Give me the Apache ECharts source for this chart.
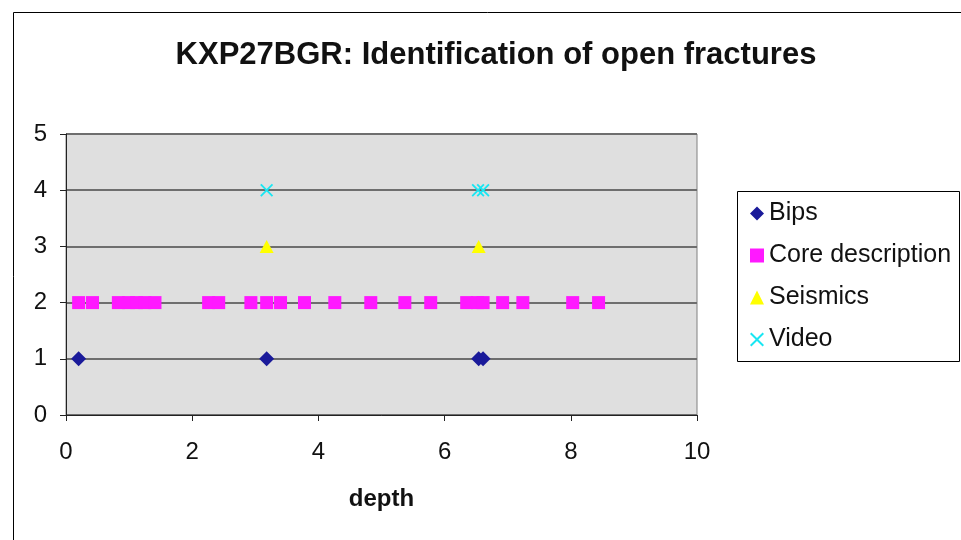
<!DOCTYPE html>
<html><head><meta charset="utf-8">
<script src="https://cdn.jsdelivr.net/npm/echarts@6/dist/echarts.min.js"></script>
<style>html,body{margin:0;padding:0;background:#fff}#c{width:961px;height:540px}</style>
</head><body><div id="c"></div>
<script>
const titleText = 'KXP27BGR: Identification of open fractures';
const xName = 'depth';
const bipsDepth = [0.20, 3.18, 6.54, 6.61];
const bipsVal = [1, 1, 1, 1];
const coreDepth = [0.20,0.42,0.83,0.99,1.12,1.25,1.41,2.26,2.42,2.93,3.18,3.40,3.78,4.26,4.83,5.37,5.78,6.35,6.52,6.61,6.92,7.24,8.03,8.44];
const coreVal = coreDepth.map(() => 2);
const seisDepth = [3.18, 6.54];
const seisVal = [3, 3];
const videoDepth = [3.18, 6.53, 6.61];
const videoVal = [4, 4, 4];
const zip = (a, b) => a.map((v, i) => [v, b[i]]);
const xSym = 'path://M0,1L1,0L5,4L9,0L10,1L6,5L10,9L9,10L5,6L1,10L0,9L4,5Z';
const font = '"Liberation Sans", Arial, sans-serif';
const chart = echarts.init(document.getElementById('c'));
chart.setOption({
  animation: false,
  textStyle: { fontFamily: font },
  graphic: [
    { type: 'rect', shape: { x: 13.5, y: 12.5, width: 960, height: 540 }, style: { fill: 'none', stroke: '#000', lineWidth: 1 } },
    { type: 'rect', shape: { x: 737.5, y: 191.5, width: 222, height: 170 }, style: { fill: '#fff', stroke: '#000', lineWidth: 1 }, z: 0 }
  ],
  title: { text: titleText, left: 491, top: 35, textAlign: 'center', textStyle: { fontSize: 31, fontWeight: 'bold', color: '#111', fontFamily: font } },
  legend: {
    orient: 'vertical', left: 745, top: 196, itemGap: 17, itemWidth: 14, itemHeight: 14,
    textStyle: { fontSize: 25, color: '#111', lineHeight: 24.5, fontFamily: font },
    z: 5
  },
  grid: { left: 66, top: 134, right: 264, bottom: 125, show: true, backgroundColor: '#DFDFDF', borderColor: '#808080', borderWidth: 1 },
  xAxis: {
    type: 'value', min: 0, max: 10, interval: 2,
    name: xName, nameLocation: 'middle', nameGap: 72,
    nameTextStyle: { fontSize: 24, fontWeight: 'bold', color: '#111', fontFamily: font },
    axisLine: { show: true, lineStyle: { color: '#222', width: 1 } },
    axisTick: { show: true, length: 6, lineStyle: { color: '#222' } },
    axisLabel: { fontSize: 24, color: '#111', margin: 25, fontFamily: font },
    splitLine: { show: false }
  },
  yAxis: {
    type: 'value', min: 0, max: 5, interval: 1,
    axisLine: { show: true, lineStyle: { color: '#222', width: 1 } },
    axisTick: { show: true, length: 6, lineStyle: { color: '#222' } },
    axisLabel: { fontSize: 24, color: '#111', margin: 19, fontFamily: font },
    splitLine: { show: true, lineStyle: { color: '#6e6e6e', width: 2 } }
  },
  series: [
    { name: 'Bips', type: 'scatter', data: zip(bipsDepth, bipsVal), symbol: 'diamond', symbolSize: [15, 15], itemStyle: { color: '#1A1A9A', opacity: 1 }, z: 3 },
    { name: 'Core description', type: 'scatter', data: zip(coreDepth, coreVal), symbol: 'rect', symbolSize: 13, itemStyle: { color: '#FF19FF', opacity: 1 }, z: 3 },
    { name: 'Seismics', type: 'scatter', data: zip(seisDepth, seisVal), symbol: 'triangle', symbolSize: [14, 13], itemStyle: { color: '#FFFF00', opacity: 1 }, z: 3 },
    { name: 'Video', type: 'scatter', data: zip(videoDepth, videoVal), symbol: xSym, symbolSize: 13, itemStyle: { color: '#19E6F2', opacity: 1 }, z: 3 }
  ]
});
</script></body></html>
